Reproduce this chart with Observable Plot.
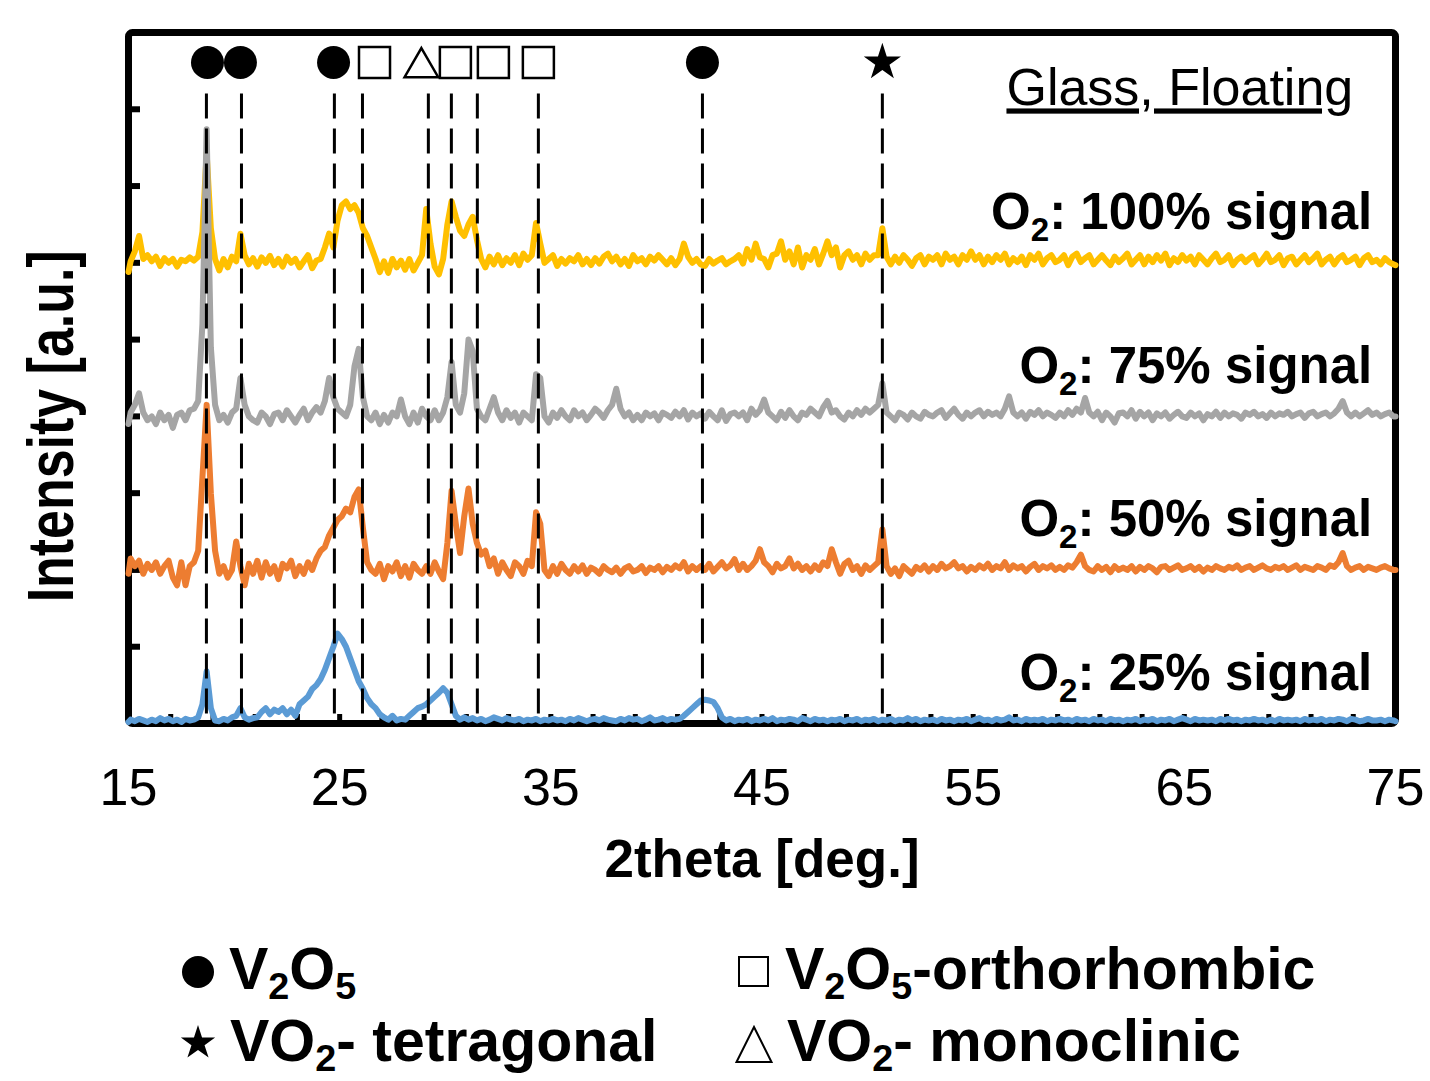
<!DOCTYPE html>
<html><head><meta charset="utf-8">
<script src="https://cdn.jsdelivr.net/npm/d3@7"></script>
<script src="https://cdn.jsdelivr.net/npm/@observablehq/plot@0.6"></script>
<style>
html,body{margin:0;padding:0;background:#fff;}
#wrap{width:1430px;}
#legend{position:relative;width:1430px;height:161px;font-family:"Liberation Sans",Arial,sans-serif;font-weight:bold;font-size:59px;color:#000;}
#legend .item{position:absolute;line-height:59px;white-space:nowrap;}
#legend sub{font-size:0.64em;vertical-align:-10px;line-height:0;}
#legend svg{position:absolute;left:0;top:0;}
</style></head>
<body><div id="wrap"><div id="chart"></div><div id="legend"></div></div>
<script>
// ---- data ----
const twoTheta = [15,
15.1,15.3,15.5,15.7,15.9, 16.1,16.3,16.5,16.7,16.9, 17.1,17.3,17.5,17.7,17.9, 18.1,18.3,18.5,18.7,18.9,
19.1,19.3,19.5,19.7,19.9, 20.1,20.3,20.5,20.7,20.9, 21.1,21.3,21.5,21.7,21.9, 22.1,22.3,22.5,22.7,22.9,
23.1,23.3,23.5,23.7,23.9, 24.1,24.3,24.5,24.7,24.9, 25.1,25.3,25.5,25.7,25.9, 26.1,26.3,26.5,26.7,26.9,
27.1,27.3,27.5,27.7,27.9, 28.1,28.3,28.5,28.7,28.9, 29.1,29.3,29.5,29.7,29.9, 30.1,30.3,30.5,30.7,30.9,
31.1,31.3,31.5,31.7,31.9, 32.1,32.3,32.5,32.7,32.9, 33.1,33.3,33.5,33.7,33.9, 34.1,34.3,34.5,34.7,34.9,
35.1,35.3,35.5,35.7,35.9, 36.1,36.3,36.5,36.7,36.9, 37.1,37.3,37.5,37.7,37.9, 38.1,38.3,38.5,38.7,38.9,
39.1,39.3,39.5,39.7,39.9, 40.1,40.3,40.5,40.7,40.9, 41.1,41.3,41.5,41.7,41.9, 42.1,42.3,42.5,42.7,42.9,
43.1,43.3,43.5,43.7,43.9, 44.1,44.3,44.5,44.7,44.9, 45.1,45.3,45.5,45.7,45.9, 46.1,46.3,46.5,46.7,46.9,
47.1,47.3,47.5,47.7,47.9, 48.1,48.3,48.5,48.7,48.9, 49.1,49.3,49.5,49.7,49.9, 50.1,50.3,50.5,50.7,50.9,
51.1,51.3,51.5,51.7,51.9, 52.1,52.3,52.5,52.7,52.9, 53.1,53.3,53.5,53.7,53.9, 54.1,54.3,54.5,54.7,54.9,
55.1,55.3,55.5,55.7,55.9, 56.1,56.3,56.5,56.7,56.9, 57.1,57.3,57.5,57.7,57.9, 58.1,58.3,58.5,58.7,58.9,
59.1,59.3,59.5,59.7,59.9, 60.1,60.3,60.5,60.7,60.9, 61.1,61.3,61.5,61.7,61.9, 62.1,62.3,62.5,62.7,62.9,
63.1,63.3,63.5,63.7,63.9, 64.1,64.3,64.5,64.7,64.9, 65.1,65.3,65.5,65.7,65.9, 66.1,66.3,66.5,66.7,66.9,
67.1,67.3,67.5,67.7,67.9, 68.1,68.3,68.5,68.7,68.9, 69.1,69.3,69.5,69.7,69.9, 70.1,70.3,70.5,70.7,70.9,
71.1,71.3,71.5,71.7,71.9, 72.1,72.3,72.5,72.7,72.9, 73.1,73.3,73.5,73.7,73.9, 74.1,74.3,74.5,74.7,74.9,
75];

// intensities relative to each trace's own baseline (a.u.)
const intensity100 = [-0.12,
0.02,0.15,0.35,0.05,0.1, 0.02,0.08,-0.04,0.06,0.0, 0.05,-0.05,0.04,0.02,0.07, 0.03,0.08,0.4,1.43,0.45,
0.05,-0.1,0.05,-0.06,0.08, 0.02,0.38,0.1,-0.02,0.06, -0.05,0.07,0.0,0.09,-0.03, 0.05,-0.05,0.08,0.0,0.05,
-0.06,0.02,0.1,-0.07,0.03, 0.05,0.2,0.38,0.2,0.55, 0.75,0.8,0.7,0.75,0.65, 0.45,0.35,0.2,0.05,-0.12,
0.02,-0.13,0.05,-0.06,0.03, -0.09,0.05,-0.1,0.0,0.1, 0.7,0.25,-0.05,-0.15,0.05, 0.5,0.8,0.6,0.42,0.35,
0.5,0.6,0.3,0.05,-0.06, 0.08,-0.02,0.1,-0.03,0.06, 0.0,0.1,-0.03,0.12,0.04, 0.1,0.52,0.25,0.0,0.05,
0.1,-0.04,0.05,-0.01,0.06, 0.02,0.1,-0.02,0.05,-0.03, 0.06,-0.01,0.08,0.12,0.02, 0.08,-0.02,0.05,-0.04,0.1,
0.02,0.06,-0.02,0.08,0.03, 0.1,0.04,-0.02,0.06,-0.03, 0.05,0.25,0.08,0.0,0.05, -0.02,-0.04,0.05,-0.01,0.03,
0.06,-0.02,0.02,0.05,0.1, -0.01,0.18,0.04,0.25,0.07, 0.05,-0.06,0.1,0.12,0.28, 0.04,0.15,-0.02,0.2,-0.06,
0.1,0.04,0.18,-0.02,0.12, 0.28,0.1,0.2,-0.06,0.1, 0.15,0.04,0.1,-0.02,0.12, 0.04,0.1,0.1,0.45,0.08,
-0.02,0.08,0.0,0.1,0.04, -0.04,0.06,0.1,-0.02,0.08, 0.04,0.1,-0.02,0.12,0.04, 0.08,-0.02,0.1,0.04,0.15,
0.04,0.1,-0.02,0.08,0.01, 0.1,0.04,0.12,-0.02,0.06, 0.01,0.08,-0.03,0.1,0.04, 0.12,-0.02,0.06,0.1,0.01,
0.04,0.1,-0.03,0.08,0.12, 0.01,0.06,0.1,-0.02,0.04, 0.1,0.03,-0.03,0.08,0.01, 0.06,0.12,-0.02,0.04,0.1,
-0.02,0.08,0.01,0.1,0.03, 0.12,-0.03,0.06,0.01,0.1, 0.03,0.08,-0.02,0.1,0.04, -0.02,0.06,0.12,0.01,0.04,
0.1,-0.03,0.04,0.08,0.01, 0.06,0.1,-0.02,0.04,0.12, 0.01,0.04,0.1,-0.03,0.06, 0.08,-0.02,0.04,0.1,0.01,
0.06,0.12,-0.02,0.04,0.08, -0.02,0.06,0.1,0.01,0.04, 0.08,-0.03,0.06,0.1,0.01, 0.04,-0.02,0.06,0.01,-0.02,
-0.03];

const intensity75 = [-0.1,
0.05,0.15,0.3,0.05,-0.05, 0.0,-0.1,0.05,-0.05,0.02, -0.15,0.02,0.05,-0.05,0.08, 0.1,0.2,1.2,3.74,0.9,
0.15,-0.05,0.02,-0.08,0.05, 0.1,0.5,0.15,0.0,-0.05, -0.08,0.05,0.0,-0.1,0.03, 0.05,-0.05,0.08,0.0,-0.08,
0.02,0.1,-0.05,0.05,0.12, 0.05,0.2,0.5,0.25,0.1, 0.05,0.0,0.15,0.65,0.88, 0.25,0.0,-0.05,0.05,-0.1,
0.02,-0.08,0.05,0.0,0.22, 0.0,-0.1,0.05,-0.08,0.1, 0.0,-0.05,0.08,-0.05,0.05, 0.25,0.71,0.15,0.05,0.3,
1.0,0.85,0.1,0.0,-0.05, 0.1,0.25,0.05,-0.05,0.08, -0.02,0.05,-0.08,0.05,0.0, -0.05,0.55,0.5,0.0,-0.08,
0.05,-0.02,0.08,0.0,-0.05, 0.08,0.0,0.05,-0.05,0.02, 0.1,0.05,-0.02,0.08,0.15, 0.36,0.1,0.0,0.05,-0.05,
0.02,-0.05,0.05,0.0,0.04, -0.05,0.05,0.02,-0.02,0.06, 0.0,0.08,-0.04,0.05,0.0, 0.04,-0.03,0.06,0.0,-0.05,
0.08,-0.06,0.03,0.05,0.0, 0.05,-0.05,0.1,0.02,0.08, 0.22,0.05,0.0,-0.05,0.06, -0.02,0.08,0.0,-0.05,0.05,
0.02,0.1,0.05,0.0,0.12, 0.2,0.05,0.08,0.0,-0.04, 0.05,0.0,0.08,0.02,0.1, 0.05,0.1,0.15,0.43,0.05,
0.0,-0.05,0.05,0.02,-0.04, 0.05,0.0,-0.03,0.06,0.02, 0.0,0.05,0.08,-0.02,0.04, 0.1,0.02,-0.03,0.05,0.0,
0.05,0.08,0.0,0.06,0.02, 0.05,0.0,0.1,0.26,0.05, 0.0,0.05,-0.03,0.06,0.02, 0.08,0.0,0.05,0.02,-0.02,
0.05,0.0,0.08,0.02,0.1, 0.05,0.24,0.05,0.0,0.06, -0.05,0.05,0.0,-0.08,0.04, 0.05,0.0,0.08,-0.03,0.06,
0.0,0.05,-0.05,0.04,0.0, 0.05,-0.03,0.02,0.06,0.0, -0.02,0.05,0.0,0.04,-0.05, 0.03,0.0,0.06,-0.02,0.05,
0.0,0.04,0.02,-0.03,0.05, 0.02,0.06,0.0,0.03,-0.02, 0.05,0.0,0.04,0.02,0.06, 0.0,0.03,0.05,-0.02,0.04,
0.06,0.0,0.03,0.05,0.0, 0.04,0.1,0.2,0.05,0.0, 0.05,0.0,0.04,0.08,0.02, 0.05,0.0,0.03,0.05,0.0,
0.0];

const intensity50 = [-0.05,
0.15,0.05,0.12,-0.05,0.08, 0.0,0.1,-0.05,0.05,0.12, -0.1,-0.2,0.1,-0.2,0.05, 0.1,0.25,1.2,2.15,1.0,
0.25,-0.05,0.05,-0.1,0.0, 0.37,0.05,-0.2,0.08,-0.05, 0.12,-0.1,0.1,-0.05,0.05, -0.12,0.08,0.02,0.12,-0.08,
0.05,-0.05,0.1,0.0,0.15, 0.25,0.3,0.45,0.55,0.65, 0.7,0.8,0.75,0.95,1.05, 0.55,0.1,0.0,-0.05,0.08,
-0.12,0.05,-0.02,0.1,-0.08, 0.05,-0.1,0.08,0.0,-0.05, 0.05,-0.05,0.1,-0.02,-0.12, 0.35,1.03,0.6,0.22,0.7,
1.06,0.6,0.35,0.2,0.25, 0.05,0.15,-0.05,0.1,0.0, -0.08,0.1,0.05,-0.05,0.12, 0.05,0.75,0.6,0.0,-0.08,
0.05,-0.05,0.08,0.0,-0.05, 0.05,-0.02,0.06,-0.05,0.03, 0.0,-0.05,0.05,0.0,-0.03, 0.03,-0.05,0.02,0.05,-0.02,
0.0,0.05,-0.04,0.03,0.0, 0.05,-0.03,0.04,0.0,0.06, 0.02,0.1,-0.02,0.05,0.0, 0.05,0.0,0.08,-0.02,0.04,
0.1,0.02,0.06,0.14,0.0, 0.08,0.0,0.05,0.12,0.27, 0.1,0.05,-0.03,0.08,0.02, 0.05,0.15,0.02,0.08,0.0,
0.05,-0.02,0.06,0.0,0.1, 0.05,0.27,0.1,-0.05,0.08, 0.12,0.0,0.05,-0.05,0.06, 0.0,0.05,0.1,0.53,0.05,
-0.05,0.02,-0.08,0.05,0.0, -0.05,0.04,0.0,0.06,-0.02, 0.05,0.0,0.08,0.02,0.05, 0.1,0.02,0.05,-0.02,0.04,
0.0,0.06,0.02,0.08,0.0, 0.05,0.02,0.1,0.0,0.06, 0.02,0.05,-0.02,0.04,0.08, 0.0,0.05,0.02,0.06,0.0,
0.04,0.0,0.06,0.03,0.1, 0.2,0.05,0.0,-0.02,0.05, 0.0,0.04,-0.03,0.05,0.0, 0.03,0.0,0.05,-0.02,0.04,
0.0,0.05,0.02,-0.03,0.04, 0.05,0.0,0.03,0.06,0.0, 0.02,0.05,0.0,0.04,-0.02, 0.03,0.0,0.05,0.02,0.0,
0.04,0.02,0.06,0.0,0.03, 0.05,0.0,0.03,0.06,0.02, 0.0,0.04,0.02,0.05,0.0, 0.03,0.06,0.0,0.04,0.02,
0.0,0.05,0.03,0.0,0.06, 0.04,0.1,0.22,0.05,0.0, 0.03,0.05,0.0,0.04,0.02, 0.0,0.03,0.05,0.02,0.0,
0.0];

const intensity25 = [0.02,
0.05,0.03,0.06,0.04,0.02, 0.05,0.03,0.07,0.04,0.06, 0.03,0.05,0.02,0.06,0.04, 0.05,0.08,0.25,0.68,0.2,
0.04,0.03,0.06,0.04,0.08, 0.1,0.2,0.08,0.05,0.07, 0.08,0.15,0.2,0.12,0.18, 0.15,0.2,0.12,0.18,0.1,
0.25,0.3,0.35,0.45,0.5, 0.58,0.7,0.85,1.0,1.17, 1.1,1.0,0.85,0.7,0.55, 0.45,0.33,0.25,0.2,0.12,
0.08,0.05,0.1,0.04,0.06, 0.05,0.1,0.15,0.2,0.22, 0.25,0.3,0.35,0.4,0.46, 0.4,0.25,0.1,0.05,0.08,
0.05,0.07,0.04,0.06,0.03, 0.05,0.08,0.06,0.04,0.07, 0.05,0.04,0.06,0.03,0.05, 0.04,0.06,0.03,0.05,0.04,
0.06,0.04,0.05,0.03,0.06, 0.04,0.07,0.05,0.03,0.05, 0.06,0.04,0.07,0.05,0.04, 0.03,0.06,0.04,0.07,0.05,
0.06,0.03,0.05,0.08,0.04, 0.05,0.07,0.04,0.06,0.05, 0.06,0.1,0.15,0.2,0.25, 0.3,0.31,0.3,0.28,0.2,
0.08,0.04,0.06,0.03,0.05, 0.04,0.06,0.03,0.05,0.04, 0.06,0.04,0.07,0.03,0.05, 0.04,0.06,0.05,0.03,0.07,
0.05,0.03,0.06,0.04,0.05, 0.03,0.05,0.04,0.06,0.03, 0.05,0.04,0.06,0.03,0.05, 0.04,0.06,0.03,0.05,0.04,
0.06,0.03,0.05,0.04,0.07, 0.04,0.06,0.03,0.05,0.04, 0.05,0.03,0.06,0.04,0.05, 0.03,0.05,0.04,0.06,0.03,
0.05,0.07,0.04,0.05,0.03, 0.06,0.04,0.05,0.08,0.04, 0.05,0.03,0.06,0.04,0.05, 0.04,0.06,0.03,0.05,0.04,
0.06,0.04,0.05,0.03,0.06, 0.04,0.05,0.03,0.06,0.04, 0.05,0.03,0.06,0.04,0.05, 0.03,0.05,0.04,0.06,0.03,
0.05,0.04,0.06,0.03,0.05, 0.04,0.06,0.03,0.05,0.07, 0.05,0.03,0.06,0.04,0.05, 0.04,0.05,0.03,0.06,0.04,
0.06,0.04,0.05,0.03,0.05, 0.04,0.06,0.04,0.05,0.03, 0.05,0.03,0.06,0.04,0.05, 0.04,0.05,0.03,0.06,0.04,
0.05,0.04,0.06,0.03,0.05, 0.04,0.06,0.05,0.03,0.06, 0.05,0.03,0.04,0.06,0.04, 0.04,0.05,0.03,0.05,0.04,
0.03];

const seriesLabels  = ["O₂: 100% signal", "O₂: 75% signal", "O₂: 50% signal", "O₂: 25% signal"];
const seriesOffsets = [6, 4, 2, 0];
const seriesColors  = ["#FFC000", "#A5A5A5", "#ED7D31", "#5B9BD5"];
const seriesValues  = [intensity100, intensity75, intensity50, intensity25];

// reference peak positions (dashed lines) and phase markers
const peakLineX   = [18.69, 20.35, 24.75, 26.08, 29.20, 30.29, 31.52, 34.41, 42.18, 50.70];
const phaseMarkX  = [18.74, 20.30, 24.71, 26.65, 28.87, 30.48, 32.28, 34.41, 42.18, 50.70];
const phaseMarkSym = ["circle","circle","circle","square","triangle","square","square","square","circle","star"];

const legendLabels  = ["V₂O₅", "V₂O₅-orthorhombic", "VO₂- tetragonal", "VO₂- monoclinic"];
const legendSymbols = ["circle", "square", "star", "triangle"];

const xLabelTicks = [15, 25, 35, 45, 55, 65, 75];
const xMinorTicks = [17,19,21,23,25,27,29,31,33,35,37,39,41,43,45,47,49,51,53,55,57,59,61,63,65,67,69,71,73];
const yTicks = [1, 2, 3, 4, 5, 6, 7, 8];
const sampleLabel = "Glass, Floating";
const xLabel = "2theta [deg.]";
const yLabel = "Intensity [a.u.]";

// ---- chart ----
const font = '"Liberation Sans", Arial, Helvetica, sans-serif';
const traceMarks = seriesValues.map((vals, s) =>
  Plot.line(twoTheta.map((x, i) => ({x, y: seriesOffsets[s] + vals[i]})), {
    x: "x", y: "y", stroke: seriesColors[s], strokeWidth: 6,
    strokeLinejoin: "round", strokeLinecap: "round"
  })
);
const phaseMarks = phaseMarkX.map((x, i) => ({x, sym: phaseMarkSym[i]}));
const symbolRow = 8.61;

const chart = Plot.plot({
  width: 1430, height: 920,
  marginLeft: 128, marginRight: 35, marginTop: 32, marginBottom: 197,
  x: {domain: [15, 75]},
  y: {domain: [0, 9]},
  style: {fontFamily: font, color: "#000", background: "#fff", overflow: "visible"},
  marks: [
    Plot.frame({stroke: "#000", strokeWidth: 7, rx: 4}),
    Plot.axisY(yTicks, {tickSize: -12, strokeWidth: 6, tickFormat: () => "", label: null}),
    Plot.axisX(xMinorTicks, {tickSize: -9, strokeWidth: 5, tickFormat: () => "", label: null}),
    Plot.axisX(xLabelTicks, {tickSize: 0, tickPadding: 45, fontSize: 52, label: null}),
    ...traceMarks,
    Plot.ruleX(peakLineX, {y1: 8.2, y2: 0, stroke: "#000", strokeWidth: 3, strokeDasharray: "25,10"}),
    Plot.dot(phaseMarks.filter(d => d.sym === "circle"), {x: "x", y: symbolRow, r: 16.5, fill: "#000", stroke: "none"}),
    Plot.dot(phaseMarks.filter(d => d.sym === "square"), {x: "x", y: symbolRow, symbol: "square", r: 17.5, fill: "#fff", stroke: "#000", strokeWidth: 2.5}),
    Plot.dot(phaseMarks.filter(d => d.sym === "triangle"), {x: "x", y: symbolRow, dy: 5, symbol: "triangle", r: 12.5, fill: "#fff", stroke: "#000", strokeWidth: 2.5}),
    Plot.dot(phaseMarks.filter(d => d.sym === "star"), {x: "x", y: symbolRow, symbol: "star", r: 11.7, fill: "#000", stroke: "none"}),
    Plot.text(seriesLabels, {x: 73.9, y: (d, i) => seriesOffsets[i] + 0.44, text: d => d,
      textAnchor: "end", lineAnchor: "bottom", fontSize: 51, fontWeight: "bold", fill: "#000"}),
    Plot.text([sampleLabel], {x: 73.0, y: 8.05, text: d => d, textAnchor: "end", lineAnchor: "bottom", fontSize: 52, fill: "#000"}),
    Plot.text([xLabel], {frameAnchor: "bottom", dy: 153, text: d => d, lineAnchor: "bottom", fontSize: 53, fontWeight: "bold", fill: "#000"}),
    Plot.text([yLabel], {frameAnchor: "left", y: 3.87, dx: -56, rotate: -90, text: d => d, lineAnchor: "bottom", textAnchor: "middle", fontSize: 64, fontWeight: "bold", fill: "#000"})
  ]
});
document.getElementById("chart").appendChild(chart);

// subscripts, underline, condensed y label
function subscriptify(t) {
  const runs = [];
  for (const ch of t.textContent) {
    const c = ch.codePointAt(0);
    const sub = c >= 0x2080 && c <= 0x2089;
    const txt = sub ? String(c - 0x2080) : ch;
    if (runs.length && runs[runs.length - 1].sub === sub) runs[runs.length - 1].text += txt;
    else runs.push({text: txt, sub});
  }
  while (t.firstChild) t.removeChild(t.firstChild);
  let shifted = false;
  for (const r of runs) {
    const ts = document.createElementNS("http://www.w3.org/2000/svg", "tspan");
    ts.textContent = r.text;
    if (r.sub) { ts.style.fontSize = "65%"; ts.setAttribute("dy", "0.36em"); shifted = true; }
    else if (shifted) { ts.setAttribute("dy", (-0.36 * 0.65) + "em"); shifted = false; }
    t.appendChild(ts);
  }
}
chart.querySelectorAll("text").forEach(t => {
  const s = t.textContent;
  if (/[\u2080-\u2089]/.test(s)) subscriptify(t);
  if (s === yLabel) { t.setAttribute("textLength", 352); t.setAttribute("lengthAdjust", "spacingAndGlyphs"); }
  if (s === sampleLabel) t.setAttribute("text-decoration", "underline");
});

// ---- legend (below the SVG) ----
const legend = document.getElementById("legend");
const lsvg = d3.select(legend).append("svg").attr("width", 1430).attr("height", 161);
const legendLayout = [{sx: 198, sy: 52, tx: 229, ty: 20}, {sx: 753.5, sy: 51.5, tx: 785, ty: 20},
                      {sx: 198, sy: 123, tx: 230, ty: 92}, {sx: 754, sy: 124, tx: 787, ty: 92}];
legendSymbols.forEach((sym, i) => {
  const L = legendLayout[i];
  if (sym === "circle") lsvg.append("circle").attr("cx", L.sx).attr("cy", L.sy).attr("r", 16).attr("fill", "#000");
  if (sym === "square") lsvg.append("rect").attr("x", L.sx - 14.5).attr("y", L.sy - 14.5).attr("width", 29).attr("height", 29)
    .attr("fill", "#fff").attr("stroke", "#000").attr("stroke-width", 2);
  if (sym === "star") lsvg.append("path").attr("d", d3.symbol(d3.symbolStar, 364)()).attr("transform", `translate(${L.sx},${L.sy})`).attr("fill", "#000");
  if (sym === "triangle") lsvg.append("path").attr("d", `M${L.sx},${L.sy - 17}L${L.sx + 17.5},${L.sy + 18}L${L.sx - 17.5},${L.sy + 18}Z`)
    .attr("fill", "#fff").attr("stroke", "#000").attr("stroke-width", 2);
  const div = document.createElement("div");
  div.className = "item";
  div.style.left = L.tx + "px";
  div.style.top = L.ty + "px";
  div.innerHTML = legendLabels[i].replace(/[\u2080-\u2089]/g, ch => `<sub>${ch.codePointAt(0) - 0x2080}</sub>`);
  legend.appendChild(div);
});
</script>
</body></html>
